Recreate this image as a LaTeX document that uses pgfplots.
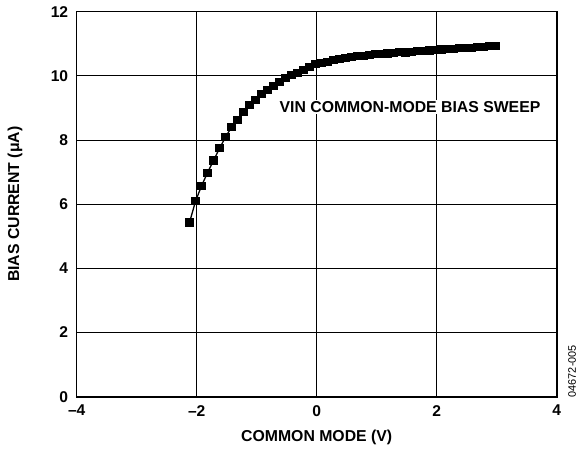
\documentclass[border=0pt]{standalone}
\usepackage{fontspec}
\setmainfont{Liberation Sans}
\usepackage{pgfplots}
\pgfplotsset{compat=1.18}
\usetikzlibrary{calc}
\begin{document}
\begin{tikzpicture}
\begin{axis}[
  name=ax,
  at={(0,0)}, anchor=south west,
  scale only axis, width=480pt, height=385pt,
  xmin=-4, xmax=4, ymin=0, ymax=12,
  xtick={-4,-2,0,2,4}, xticklabels={–4,–2,0,2,4},
  ytick={0,2,4,6,8,10,12},
  grid=major, major grid style={black, line width=0.8pt},
  axis line style={black, line width=1.6pt},
  major tick length=0pt,
  tick label style={font=\fontsize{15.6}{18}\selectfont\bfseries},
  /pgf/number format/assume math mode=true,
  xticklabel style={yshift=-5pt}, yticklabel style={xshift=-5pt},
  xlabel={COMMON MODE (V)}, ylabel={BIAS CURRENT (μA)},
  label style={font=\fontsize{15.8}{18}\selectfont\bfseries},
  xlabel style={at={(axis description cs:0.5,-0.106)}, anchor=center},
  ylabel style={at={(axis description cs:-0.1285,0.5)}, anchor=center},
]
\addplot[black, line width=1.3pt, mark=square*, mark size=3.6pt, mark options={fill=black, line width=0pt}] coordinates {
(-2.12,5.43) (-2.02,6.09) (-1.92,6.57) (-1.82,6.98) (-1.72,7.36) (-1.62,7.74)
(-1.52,8.09) (-1.42,8.40) (-1.32,8.62) (-1.22,8.88) (-1.12,9.08) (-1.02,9.25)
(-0.92,9.43) (-0.82,9.56) (-0.72,9.69) (-0.62,9.82) (-0.52,9.93) (-0.42,10.02)
(-0.32,10.10) (-0.22,10.18) (-0.12,10.28) (-0.02,10.36) (0.08,10.41) (0.18,10.44)
(0.28,10.50) (0.38,10.53) (0.48,10.56) (0.58,10.58) (0.68,10.61) (0.78,10.63)
(0.88,10.65) (0.98,10.67) (1.08,10.68) (1.18,10.70) (1.28,10.71) (1.38,10.74)
(1.48,10.73) (1.58,10.75) (1.68,10.77) (1.78,10.78) (1.88,10.79) (1.98,10.81)
(2.08,10.82) (2.18,10.83) (2.28,10.84) (2.38,10.86) (2.48,10.87) (2.58,10.88)
(2.68,10.91) (2.78,10.90) (2.88,10.92) (2.98,10.93)
};
\node[fill=white, inner sep=1.5pt, font=\fontsize{15.8}{18}\selectfont\bfseries] at (axis cs:1.555,9.04) {VIN COMMON-MODE BIAS SWEEP};
\end{axis}
\node[rotate=90, font=\fontsize{10.9}{13}\selectfont, inner sep=0pt] at ($(ax.south west)+(495.3pt,25.5pt)$) {04672-005};
\pgfresetboundingbox
\path[use as bounding box] ($(ax.south west)+(-76.7pt,-53.5pt)$) rectangle ($(ax.south west)+(500.3pt,396.7pt)$);
\end{tikzpicture}
\end{document}
